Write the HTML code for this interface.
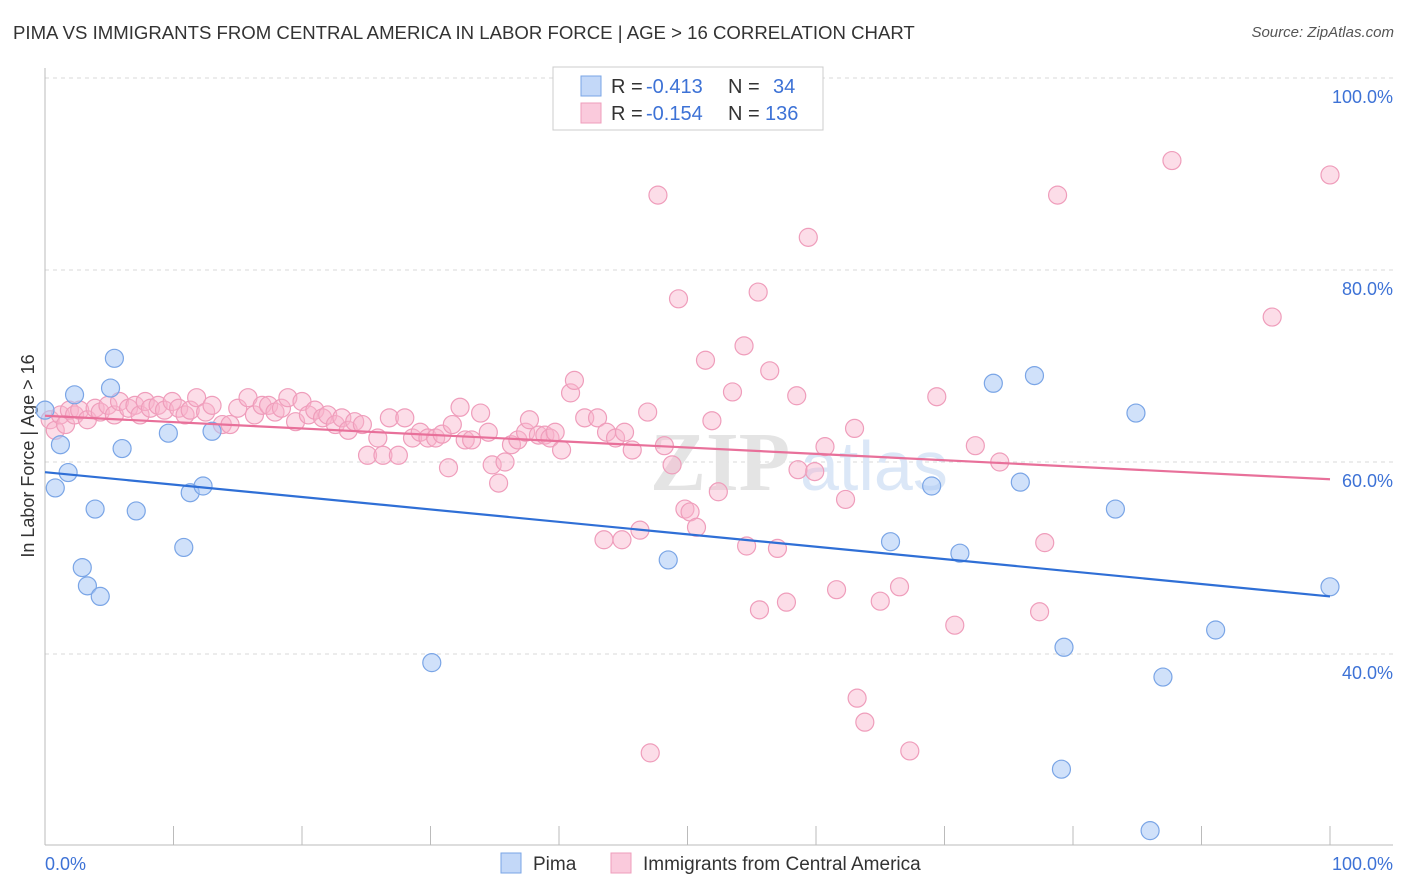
<!DOCTYPE html>
<html><head><meta charset="utf-8"><style>
body{margin:0;background:#fff;font-family:"Liberation Sans",sans-serif}
#wrap{position:relative;width:1406px;height:892px;overflow:hidden}
.t{position:absolute;white-space:nowrap}
</style></head><body>
<div id="wrap">
<div class="t" style="left:13px;top:22px;font-size:18.6px;color:#333">PIMA VS IMMIGRANTS FROM CENTRAL AMERICA IN LABOR FORCE | AGE &gt; 16 CORRELATION CHART</div>
<div class="t" style="right:12px;top:24px;font-size:15px;color:#555;font-style:italic">Source: ZipAtlas.com</div>
<svg id="svg" width="1406" height="892" style="position:absolute;left:0;top:0"></svg>
</div>
<script>
const yTicks=[40,60,80,100];
const xTickLabels=["0.0%","100.0%"];
const pimaX=[0,1.2,0.8,1.8,2.3,5.1,5.4,3.9,6.0,2.9,3.3,4.3,7.1,9.6,10.8,11.3,12.3,13.0,30.1,48.5,65.8,69.0,71.2,73.8,75.9,77.0,79.3,79.1,83.3,84.9,86.0,87.0,91.1,100];
const pimaY=[65.4,61.8,57.3,58.9,67.0,67.7,70.8,55.1,61.4,49.0,47.1,46.0,54.9,63.0,51.1,56.8,57.5,63.2,39.1,49.8,51.7,57.5,50.5,68.2,57.9,69.0,40.7,28.0,55.1,65.1,21.6,37.6,42.5,47.0];
const immX=[0.4,0.8,1.2,1.6,1.9,2.3,2.7,3.3,3.9,4.3,4.9,5.4,5.8,6.5,7.0,7.4,7.8,8.2,8.8,9.3,9.9,10.4,10.9,11.3,11.8,12.5,13.0,13.8,14.4,15.0,15.8,16.3,16.9,17.4,17.9,18.4,18.9,19.5,20.0,20.5,21.0,21.6,22.0,22.6,23.1,23.6,24.1,24.7,25.1,25.9,26.3,26.8,27.5,28.0,28.6,29.2,29.8,30.4,30.9,31.4,31.7,32.3,32.7,33.2,33.9,34.5,34.8,35.3,35.8,36.3,36.8,37.4,37.7,38.4,38.9,39.3,39.7,40.2,40.9,41.2,42.0,43.0,43.7,44.4,45.1,45.7,46.9,47.7,48.2,48.8,49.3,49.8,50.2,50.7,51.4,51.9,52.4,53.5,54.4,54.6,55.5,55.6,56.4,57.0,57.7,58.5,58.6,59.4,59.9,60.7,61.6,62.3,63.0,63.2,63.8,65.0,66.5,67.3,69.4,70.8,72.4,74.3,77.4,77.8,78.8,87.7,95.5,100,47.1,43.5,44.9,46.3];
const immY=[64.4,63.3,64.9,63.9,65.4,64.9,65.4,64.4,65.6,65.2,65.9,64.9,66.3,65.6,65.9,64.9,66.3,65.6,65.9,65.4,66.3,65.6,64.9,65.4,66.7,65.2,65.9,63.9,63.9,65.6,66.7,64.9,65.9,65.9,65.2,65.6,66.7,64.2,66.3,64.9,65.4,64.6,64.9,63.9,64.6,63.3,64.2,63.9,60.7,62.5,60.7,64.6,60.7,64.6,62.5,63.1,62.5,62.5,62.9,59.4,63.9,65.7,62.3,62.3,65.1,63.1,59.7,57.8,60.0,61.8,62.3,63.1,64.4,62.8,62.8,62.5,63.1,61.25,67.2,68.5,64.6,64.6,63.1,62.5,63.1,61.25,65.2,87.8,61.7,59.7,77.0,55.1,54.8,53.2,70.6,64.3,56.9,67.3,72.1,51.25,77.7,44.6,69.5,51.0,45.4,66.9,59.2,83.4,59.0,61.6,46.7,56.1,63.5,35.4,32.9,45.5,47.0,29.9,66.8,43.0,61.7,60.0,44.4,51.6,87.8,91.4,75.1,89.9,29.7,51.9,51.9,52.9];
const NS="http://www.w3.org/2000/svg";
const svg=document.getElementById('svg');
const X0=45,X1=1330,YTOP=78,PX_PER=9.6;
function sx(v){return X0+(X1-X0)*v/100;}
function sy(v){return YTOP+(100-v)*PX_PER;}
function mk(tag,attrs){const e=document.createElementNS(NS,tag);for(const k in attrs)e.setAttribute(k,attrs[k]);svg.appendChild(e);return e;}
for(const t of yTicks){
 const g=mk('line',{x1:45,x2:1393,y1:sy(t),y2:sy(t),stroke:'#d8d8d8','stroke-dasharray':'4,4'});
 
 
 const l=mk('text',{x:1393,y:sy(t)+25,'text-anchor':'end','font-size':18,fill:'#3d72d6','font-family':'Liberation Sans'});
 l.textContent=t.toFixed(1)+'%';
 
 
}
const ax=mk('line',{x1:45,x2:45,y1:68,y2:845,stroke:'#bbb'});


const bx=mk('line',{x1:45,x2:1393,y1:845,y2:845,stroke:'#bbb'});


for(let i=0;i<=10;i++){
 const tk=mk('line',{x1:sx(i*10),x2:sx(i*10),y1:826,y2:845,stroke:'#bbb'});
 
 
}
const xl0=mk('text',{x:45,y:870,'font-size':18,fill:'#3d72d6','font-family':'Liberation Sans'});xl0.textContent=xTickLabels[0];


const xl1=mk('text',{x:1393,y:870,'text-anchor':'end','font-size':18,fill:'#3d72d6','font-family':'Liberation Sans'});xl1.textContent=xTickLabels[1];


const yt=mk('text',{x:0,y:0,transform:'translate(34,456) rotate(-90)','text-anchor':'middle','font-size':18,fill:'#333','font-family':'Liberation Sans'});yt.textContent='In Labor Force | Age > 16';


const wm=mk('text',{x:720,y:490,'text-anchor':'middle','font-size':84,fill:'#e4e4e4','font-family':'Liberation Serif','font-weight':'bold'});wm.textContent='ZIP';


const wm2=mk('text',{x:800,y:490,'font-size':70,fill:'#dbe7f7','font-family':'Liberation Sans'});wm2.textContent='atlas';


function pts(xs,ys,fill,stroke,name){
 for(let i=0;i<xs.length;i++){
  const c=mk('circle',{cx:sx(xs[i]),cy:sy(ys[i]),r:9,fill:fill,stroke:stroke,'stroke-width':1.2});
  
  
 }
}
function reg(xs,ys,col,name){
 const n=xs.length;let mx=0,my=0;for(let i=0;i<n;i++){mx+=xs[i];my+=ys[i];}mx/=n;my/=n;
 let sxy=0,sxx=0;for(let i=0;i<n;i++){sxy+=(xs[i]-mx)*(ys[i]-my);sxx+=(xs[i]-mx)**2;}
 const b=sxy/sxx,a=my-b*mx;
 const l=mk('line',{x1:sx(0),y1:sy(a),x2:sx(100),y2:sy(a+b*100),stroke:col,'stroke-width':2.2});
 
 
}
pts(immX,immY,'rgba(248,180,205,0.45)','#ef9dbb','immigrants-point');
pts(pimaX,pimaY,'rgba(170,200,245,0.55)','#7aa5e6','pima-point');
reg(pimaX,pimaY,'#2f6fd6','pima-trend-line');
reg(immX,immY,'#e8709a','immigrants-trend-line');
const lb=mk('rect',{x:553,y:67,width:270,height:63,fill:'#fff',stroke:'#ccc'});


const rows=[['rgba(170,200,245,0.7)','#7aa5e6','-0.413','34',86,773],['rgba(248,180,205,0.7)','#ef9dbb','-0.154','136',113,765]];
for(const r of rows){
 const sw=mk('rect',{x:581,y:r[4]-10,width:20,height:20,fill:r[0],stroke:r[1]});
 
 
 const parts=[[611,'R =','#333'],[646,r[2],'#3d72d6'],[728,'N =','#333'],[r[5],r[3],'#3d72d6']];
 for(const p of parts){
  const t=mk('text',{x:p[0],y:r[4]+7,'font-size':20,fill:p[2],'font-family':'Liberation Sans'});
  t.textContent=p[1];
  
  
 }
}
const bl=[[501,'rgba(170,200,245,0.7)','#7aa5e6','Pima'],[611,'rgba(248,180,205,0.7)','#ef9dbb','Immigrants from Central America']];
for(const b of bl){
 const sw=mk('rect',{x:b[0],y:853,width:20,height:20,fill:b[1],stroke:b[2]});
 
 
 const t=mk('text',{x:b[0]+32,y:870,'font-size':19,fill:'#333','font-family':'Liberation Sans'});t.textContent=b[3];
 
 
}
</script>
</body></html>
